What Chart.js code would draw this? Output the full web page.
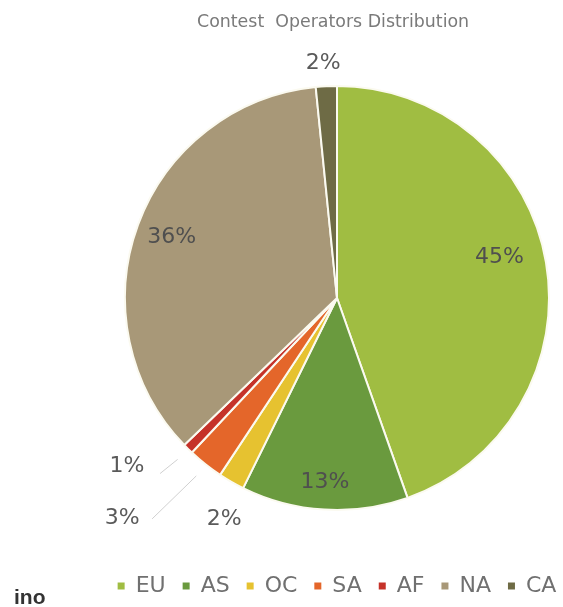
<!DOCTYPE html>
<html>
<head>
<meta charset="utf-8">
<script src="https://cdn.jsdelivr.net/npm/chart.js@4.4.1/dist/chart.umd.min.js"></script>
<style>
  html, body { margin: 0; padding: 0; background: #fff; overflow: hidden; width: 563px; height: 607px; }
  #wrap { position: absolute; left: 0; top: 0; width: 620px; height: 607px; }
  #title { position: absolute; left: 197px; top: 11px; font: 17.4px "DejaVu Sans", Verdana, sans-serif; color: #7a7a7a; white-space: pre; }
  #stray { position: absolute; left: 14px; top: 585px; font: bold 21px "Liberation Sans", Arial, sans-serif; color: #333; }
</style>
</head>
<body>
<div id="wrap"><canvas id="pieChart" width="620" height="607"></canvas></div>
<div id="title">Contest  Operators Distribution</div>
<div id="stray">ino</div>
<script>
// operators by continent, in percent
const regions = ["EU", "AS", "OC", "SA", "AF", "NA", "CA"];
const shares = [44.6, 12.7, 2.0, 2.7, 0.8, 35.6, 1.6];
const sliceColors = ["#a0bd42", "#6a9a3e", "#e6c230", "#e4662a", "#c53229", "#a89878", "#6e6b45"];

// where each % label goes: fraction of radius, turn in degrees (clockwise)
const labelDist = [0.79, 0.87, 1.17, 1.45, 1.27, 0.83, 1.11];
const labelTurn = [-4.3, 0.3, -2.8, 6, 6.6, 0, -0.5];
const leaderEnd = [null, null, null, [30, 1], [33, 7], null, null];

const fontFamily = '"DejaVu Sans", Verdana, sans-serif';

// draws the percentages + the thin leader lines for the tiny slices
const sliceLabels = {
  id: "sliceLabels",
  afterDatasetsDraw(chart) {
    const ctx = chart.ctx;
    const meta = chart.getDatasetMeta(0);
    ctx.save();
    ctx.font = "22px " + fontFamily;
    ctx.textAlign = "center";
    ctx.textBaseline = "middle";
    meta.data.forEach((arc, i) => {
      const p = arc.getProps(["x", "y", "startAngle", "endAngle", "outerRadius"], true);
      const mid = (p.startAngle + p.endAngle) / 2;
      const a = mid + labelTurn[i] * Math.PI / 180;
      const lx = p.x + Math.cos(a) * p.outerRadius * labelDist[i];
      const ly = p.y + Math.sin(a) * p.outerRadius * labelDist[i];
      if (leaderEnd[i]) {
        ctx.strokeStyle = "#d0d0d0";
        ctx.lineWidth = 1;
        ctx.beginPath();
        ctx.moveTo(p.x + Math.cos(mid) * p.outerRadius * 1.07, p.y + Math.sin(mid) * p.outerRadius * 1.07);
        ctx.lineTo(lx + leaderEnd[i][0], ly + leaderEnd[i][1]);
        ctx.stroke();
      }
      ctx.fillStyle = labelDist[i] < 1 ? "#4f4f4f" : "#5a5a5a";
      ctx.fillText(Math.round(shares[i]) + "%", lx, ly);
    });
    ctx.restore();
  }
};

new Chart(document.getElementById("pieChart"), {
  type: "pie",
  data: {
    labels: regions,
    datasets: [{
      data: shares,
      backgroundColor: sliceColors,
      borderColor: "#fbfaf0",
      borderWidth: 2,
      radius: 212
    }]
  },
  options: {
    responsive: false,
    animation: false,
    layout: { padding: { top: 38, left: 54, right: 0, bottom: 0 } },
    plugins: {
      tooltip: { enabled: false },
      legend: {
        position: "bottom",
        labels: {
          boxWidth: 7,
          boxHeight: 7,
          padding: 17,
          color: "#707070",
          font: { family: fontFamily, size: 22 },
          generateLabels: (c) =>
            Chart.overrides.pie.plugins.legend.labels.generateLabels(c).map((l) => ({ ...l, lineWidth: 0 }))
        }
      }
    }
  },
  plugins: [sliceLabels]
});
</script>
</body>
</html>
